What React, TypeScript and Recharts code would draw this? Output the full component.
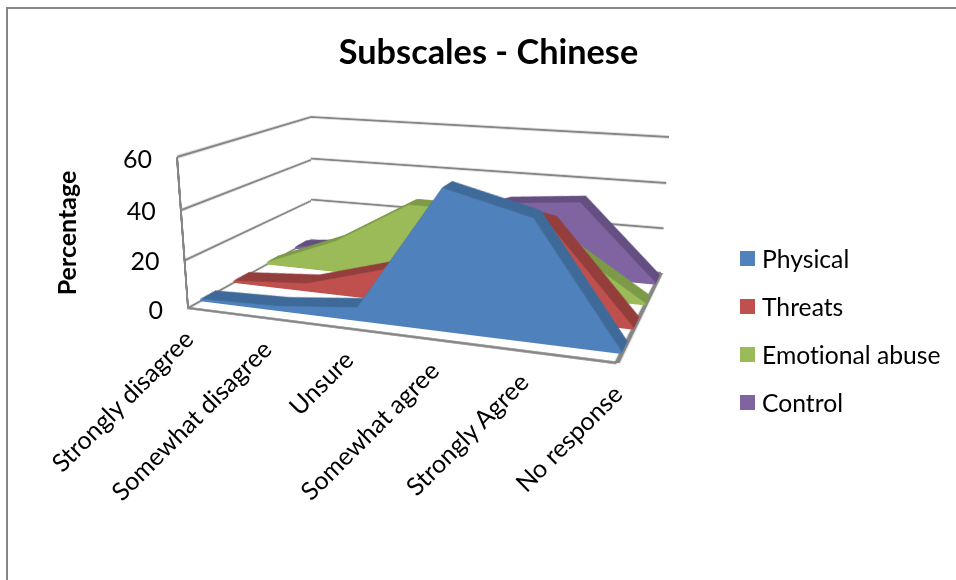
import React from 'react';
import { AreaChart, Area, XAxis, YAxis, ReferenceLine, Legend } from 'recharts';

// Survey answers along the horizontal axis
const categories = ['Strongly disagree', 'Somewhat disagree', 'Unsure', 'Somewhat agree', 'Strongly Agree', 'No response'];

// Percentage of respondents for each subscale
const physical = [1, 2, 5.5, 55, 47, 1];
const threats = [1, 3.5, 13, 44, 38, 1];
const emotionalAbuse = [1, 14, 33, 33, 22, 1];
const control = [1, 5, 18, 30, 33, 1];

const valueTicks = [0, 20, 40, 60];
const FONT = 'Lato, Carlito, Calibri, sans-serif';
const GRID = '#868686';

const seriesList = [
  { name: 'Control', values: control, fill: '#8064A2', side: '#644F82', near: 0.87, far: 0.96 },
  { name: 'Emotional abuse', values: emotionalAbuse, fill: '#9BBB59', side: '#7C9A47', near: 0.64, far: 0.73 },
  { name: 'Threats', values: threats, fill: '#C0504D', side: '#943E3C', near: 0.37, far: 0.49 },
  { name: 'Physical', values: physical, fill: '#4F81BD', side: '#3E6A99', near: 0.1, far: 0.22 },
];
const legendOrder = ['Physical', 'Threats', 'Emotional abuse', 'Control'];

type Pt = [number, number];
type Quad = [Pt, Pt, Pt, Pt]; // top-left, top-right, bottom-right, bottom-left

// Corners of the 3D box as seen on the page
const FRONT_TL: Pt = [177, 157];
const FRONT_TR: Pt = [627, 196];
const FRONT_BR: Pt = [617, 363];
const FRONT_BL: Pt = [188, 308];
const BACK_TL: Pt = [311, 117];
const BACK_TR: Pt = [669, 137];
const BACK_BR: Pt = [661, 273];
const BACK_BL: Pt = [311, 240];

// Each flat chart is drawn with this plot rectangle before being projected
const PAD = 10;
const PLOT_W = 430;
const PLOT_H = 150;
const PLOT_LEFT = 188;
const PLOT_TOP = 158;
const PLOT_BOTTOM = PLOT_TOP + PLOT_H;

type Homography = number[];

function homography(rx: number, ry: number, rw: number, rh: number, q: Quad): Homography {
  const [[x0, y0], [x1, y1], [x2, y2], [x3, y3]] = q;
  const dx1 = x1 - x2, dx2 = x3 - x2, sx = x0 - x1 + x2 - x3;
  const dy1 = y1 - y2, dy2 = y3 - y2, sy = y0 - y1 + y2 - y3;
  const den = dx1 * dy2 - dx2 * dy1;
  const g = (sx * dy2 - dx2 * sy) / den;
  const h = (dx1 * sy - sx * dy1) / den;
  const a = x1 - x0 + g * x1, b = x3 - x0 + h * x3;
  const d = y1 - y0 + g * y1, e = y3 - y0 + h * y3;
  return [
    a / rw, b / rh, x0 - (a * rx) / rw - (b * ry) / rh,
    d / rw, e / rh, y0 - (d * rx) / rw - (e * ry) / rh,
    g / rw, h / rh, 1 - (g * rx) / rw - (h * ry) / rh,
  ];
}

const project = (m: Homography, x: number, y: number): Pt => {
  const w = m[6] * x + m[7] * y + m[8];
  return [(m[0] * x + m[1] * y + m[2]) / w, (m[3] * x + m[4] * y + m[5]) / w];
};

const toCss = (m: Homography) =>
  `matrix3d(${m[0]},${m[3]},0,${m[6]},${m[1]},${m[4]},0,${m[7]},0,0,1,0,${m[2]},${m[5]},0,${m[8]})`;

const mix = (a: Pt, b: Pt, t: number): Pt => [a[0] + (b[0] - a[0]) * t, a[1] + (b[1] - a[1]) * t];
const planeAt = (t: number): Quad => [mix(FRONT_TL, BACK_TL, t), mix(FRONT_TR, BACK_TR, t), mix(FRONT_BR, BACK_BR, t), mix(FRONT_BL, BACK_BL, t)];

const frontProjection = homography(PLOT_LEFT, PLOT_TOP, PLOT_W, PLOT_H, planeAt(0));

const flatStyle = (q: Quad): React.CSSProperties => ({
  position: 'absolute',
  left: 0,
  top: 0,
  width: PLOT_W + 2 * PAD,
  height: PLOT_H + 2 * PAD,
  transformOrigin: '0 0',
  transform: toCss(homography(PAD, PAD, PLOT_W, PLOT_H, q)),
});

const flatProps = {
  width: PLOT_W + 2 * PAD,
  height: PLOT_H + 2 * PAD,
  style: { overflow: 'visible' },
};
const flatMargin = { left: PAD, right: PAD, top: PAD, bottom: PAD };

function rowsFor(values: number[]) {
  return categories.map((category, i) => ({ category, value: values[i] }));
}

// Unpainted series that gives an axis-only chart its value scale
const carrier = (
  <Area dataKey="value" fill="none" stroke="none" dot={false} activeDot={false} isAnimationActive={false} legendType="none" />
);

// One slice of an area series, flat in the plane at depth t
function AreaSlice({ values, t, color, edge }: { values: number[]; t: number; color: string; edge: boolean }) {
  return (
    <div style={flatStyle(planeAt(t))}>
      <AreaChart {...flatProps} margin={flatMargin} data={rowsFor(values)}>
        <XAxis dataKey="category" hide />
        <YAxis hide domain={[0, 60]} />
        <Area
          dataKey="value"
          type="linear"
          fill={color}
          fillOpacity={1}
          stroke={edge ? color : 'none'}
          strokeWidth={edge ? 0.6 : 0}
          dot={false}
          activeDot={false}
          isAnimationActive={false}
        />
      </AreaChart>
    </div>
  );
}

const SLICES = 12;

// The extruded body is a stack of dark slices, closed by the lit front face
function Extruded({ s }: { s: (typeof seriesList)[number] }) {
  const depths = Array.from({ length: SLICES }, (_, i) => s.far + ((s.near - s.far) * i) / SLICES);
  return (
    <>
      {depths.map((t) => (
        <AreaSlice key={t} values={s.values} t={t} color={s.side} edge />
      ))}
      <AreaSlice values={s.values} t={s.near} color={s.fill} edge={false} />
    </>
  );
}

// A wall of the box: gridlines at the value ticks, in the wall's own plane
function Wall({ quad, ticks, frontEdge }: { quad: Quad; ticks: number[]; frontEdge?: boolean }) {
  return (
    <div style={flatStyle(quad)}>
      <AreaChart {...flatProps} margin={{ ...flatMargin, left: PAD - 1 }} data={rowsFor(control)}>
        <XAxis dataKey="category" hide />
        <YAxis
          domain={[0, 60]}
          ticks={ticks}
          interval={0}
          width={1}
          tick={false}
          tickLine={false}
          axisLine={frontEdge ? { stroke: GRID, strokeWidth: 6 } : false}
        />
        {ticks.map((v) => (
          <ReferenceLine key={v} y={v} stroke={GRID} strokeWidth={2.3} />
        ))}
        {carrier}
      </AreaChart>
    </div>
  );
}

// The floor shows only its near edge and its right edge
function Floor() {
  return (
    <div style={flatStyle([BACK_BL, BACK_BR, FRONT_BR, FRONT_BL])}>
      <AreaChart {...flatProps} margin={{ ...flatMargin, right: PAD - 1, bottom: PAD - 1 }} data={rowsFor(control)}>
        <XAxis dataKey="category" height={1} tick={false} tickLine={false} axisLine={{ stroke: GRID, strokeWidth: 3.5 }} />
        <YAxis orientation="right" domain={[0, 60]} width={1} tick={false} tickLine={false} axisLine={{ stroke: GRID, strokeWidth: 4.5 }} />
        {carrier}
      </AreaChart>
    </div>
  );
}

function CategoryTick({ x, payload }: any) {
  const [px, py] = project(frontProjection, x, PLOT_BOTTOM);
  const ex = px + 7;
  const ey = py + 33;
  return (
    <text x={ex} y={ey} transform={`rotate(-45 ${ex} ${ey})`} textAnchor="end" fontFamily={FONT} fontSize={25} fill="#000">
      {payload.value}
    </text>
  );
}

function ValueTick({ y, payload }: any) {
  const [px, py] = project(frontProjection, PLOT_LEFT, y);
  return (
    <text x={px - 25} y={py + 1} dominantBaseline="central" textAnchor="end" fontFamily={FONT} fontSize={25} fill="#000">
      {payload.value}
    </text>
  );
}

function LegendRows() {
  return (
    <div style={{ fontFamily: FONT, fontSize: 24.7, color: '#000', fontVariantLigatures: 'none' }}>
      {legendOrder.map((name) => {
        const s = seriesList.find((item) => item.name === name)!;
        return (
          <div key={name} style={{ display: 'flex', alignItems: 'center', height: 48, whiteSpace: 'nowrap' }}>
            <span style={{ width: 15, height: 15, background: s.fill, marginRight: 7, flex: 'none' }} />
            {name}
          </div>
        );
      })}
    </div>
  );
}

export default function App() {
  return (
    <div style={{ position: 'absolute', left: 0, top: 0, width: 956, height: 580, overflow: 'hidden', background: '#fff' }}>
      <div style={{ position: 'absolute', left: 6, top: 7, width: 950, height: 573, borderTop: `2px solid ${GRID}`, borderLeft: `2px solid ${GRID}` }} />

      <Wall quad={[BACK_TL, BACK_TR, BACK_BR, BACK_BL]} ticks={valueTicks} />
      <Wall quad={[FRONT_TL, BACK_TL, BACK_BL, FRONT_BL]} ticks={valueTicks} frontEdge />
      <Floor />

      {seriesList.map((s) => (
        <Extruded key={s.name} s={s} />
      ))}

      <div style={{ position: 'absolute', left: 0, top: 0 }}>
        <AreaChart
          width={956}
          height={580}
          data={rowsFor(physical)}
          margin={{ left: PLOT_LEFT - 1, top: PLOT_TOP, right: 956 - PLOT_LEFT - PLOT_W, bottom: 580 - PLOT_BOTTOM - 1 }}
        >
          <XAxis dataKey="category" interval={0} height={1} tickSize={0} tickLine={false} axisLine={false} tick={<CategoryTick />} />
          <YAxis domain={[0, 60]} ticks={valueTicks} interval={0} width={1} tickSize={0} tickLine={false} axisLine={false} tick={<ValueTick />} />
          {carrier}
          <text x={488.5} y={64} textAnchor="middle" fontFamily={FONT} fontSize={34.3} fontWeight={700} fill="#000">
            Subscales - Chinese
          </text>
          <text x={76} y={233} transform="rotate(-90 76 233)" textAnchor="middle" fontFamily={FONT} fontSize={25} fontWeight={700} fill="#000">
            Percentage
          </text>
          <Legend
            layout="horizontal"
            verticalAlign="middle"
            align="center"
            content={<LegendRows />}
            wrapperStyle={{ left: 740, top: 234, width: 216, height: 192 }}
          />
        </AreaChart>
      </div>
    </div>
  );
}
